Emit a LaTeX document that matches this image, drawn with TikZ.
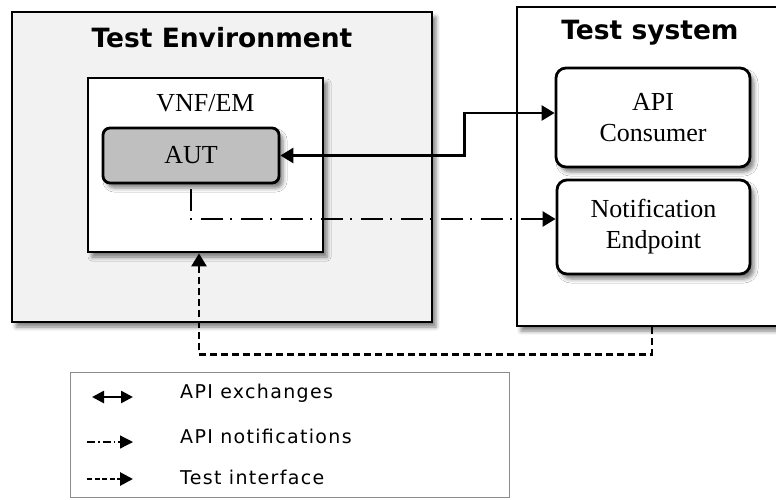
\documentclass[tikz,border=0pt]{standalone}
\usepackage{fontspec}
\setmainfont{Liberation Serif}
\newfontfamily\headfont{DejaVu Sans}
\newfontfamily\legfont{DejaVu Sans}[LetterSpace=7]
\usetikzlibrary{arrows.meta,shadows.blur,calc}

\definecolor{envgray}{HTML}{F2F2F2}
\definecolor{autgray}{HTML}{BFBFBF}
\definecolor{leggray}{HTML}{8C8C8C}

\tikzset{
  x=1pt, y=-1pt,
  box/.style={draw=black, line width=2.8pt, inner sep=0pt,
    blur shadow={shadow xshift=4pt, shadow yshift=-5pt, shadow blur radius=4pt, shadow opacity=50}},
  roundbox/.style={box, rounded corners=10pt, align=center,
    font=\fontsize{26}{31}\selectfont},
  heading/.style={font=\headfont\bfseries\fontsize{26.5}{31}\selectfont},
  serifl/.style={font=\fontsize{26}{31}\selectfont},
  apiline/.style={line width=2.6pt, {Triangle[length=13pt,width=15pt]}-{Triangle[length=13pt,width=15pt]}},
  notifline/.style={line width=2.6pt, dash pattern=on 22pt off 7pt on 2pt off 9pt, dash phase=35pt,
    -{Triangle[length=13pt,width=15pt]}},
  testline/.style={line width=2.6pt, dash pattern=on 7pt off 4pt, -{Triangle[length=13pt,width=15pt]}},
  legtext/.style={anchor=west, inner sep=0pt, font=\legfont\fontsize{19}{23}\selectfont},
}

\begin{document}
\begin{tikzpicture}
\useasboundingbox (0,0) rectangle (776,499);

% Test environment with the VNF/EM and the AUT
\node[box, fill=envgray, minimum width=420pt, minimum height=310pt] (env) at (222,167) {};
\node[heading] (envtitle) at (222,38) {Test Environment};
\node[box, fill=white, minimum width=235pt, minimum height=174pt] (vnf) at (205.5,165) {};
\node[serifl] (vnflabel) at (205.5,103) {VNF/EM};
\node[roundbox, rounded corners=7pt, fill=autgray, minimum width=176pt, minimum height=55pt] (aut) at (191,155.5) {AUT};

% Test system
\node[box, fill=white, minimum width=270pt, minimum height=319pt] (sys) at (652,166.5) {};
\node[heading] (systitle) at (650,33) {Test system};
\node[roundbox, fill=white, minimum width=194pt, minimum height=99pt] (cons) at (653,117.5) {API\\Consumer};
\node[roundbox, fill=white, minimum width=193pt, minimum height=94pt] (notif) at (653.5,227) {Notification\\Endpoint};

% Connectors
\draw[apiline] (aut.east) -- ++(184,0) |- ([yshift=4.5pt]cons.west);
\draw[notifline] (aut.south) |- ([yshift=8pt]notif.west);
\draw[testline] (sys.south) -- ++(0,27) -| ([xshift=-6.5pt]vnf.south);

% Legend
\node[draw=leggray, line width=1pt, minimum width=439pt, minimum height=125pt, inner sep=0pt] (legend) at (289.5,434.5) {};
\coordinate (la1) at (92,397);
\coordinate (lb1) at (133,397);
\coordinate (la2) at (87,442);
\coordinate (lb2) at (133,442);
\coordinate (la3) at (87,479);
\coordinate (lb3) at (133,479);
\draw[line width=2.6pt, {Triangle[length=12pt,width=12pt]}-{Triangle[length=12pt,width=12pt]}] (la1) -- (lb1);
\draw[line width=1.3pt, dash pattern=on 8pt off 3pt on 1.5pt off 3pt, -{Triangle[length=13pt,width=13pt]}] (la2) -- (lb2);
\draw[line width=2.8pt, dash pattern=on 5pt off 2.5pt, -{Triangle[length=13pt,width=13pt]}] (la3) -- (lb3);
\node[legtext] (lt1) at (180,393) {API exchanges};
\node[legtext] (lt2) at (180,436) {API notifications};
\node[legtext] (lt3) at (180,477) {Test interface};
\end{tikzpicture}
\end{document}
